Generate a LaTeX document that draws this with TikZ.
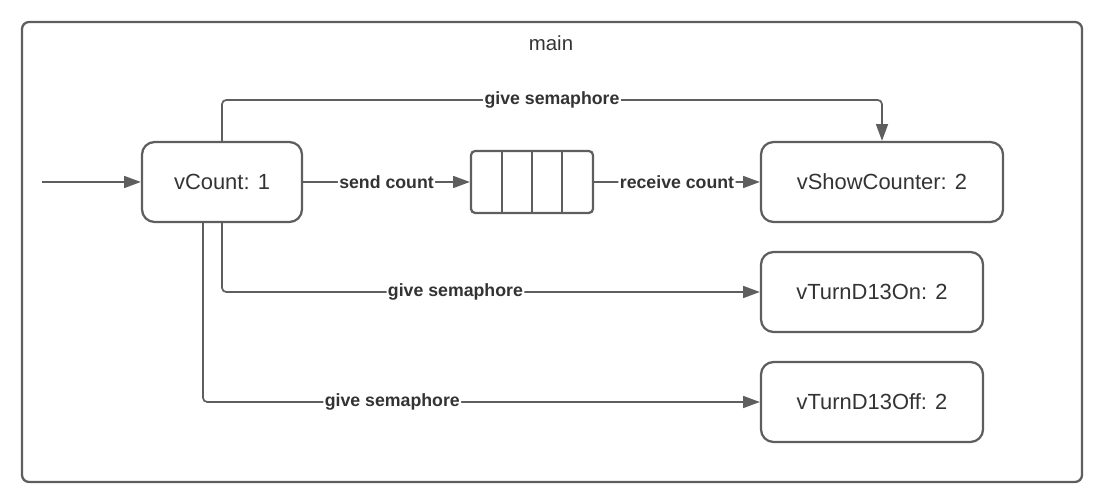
\documentclass[tikz,border=0pt]{standalone}
\usepackage{fontspec}
\setmainfont{Liberation Sans}
\usepackage{tikz}
\usetikzlibrary{arrows.meta, positioning}

\definecolor{linegray}{HTML}{5E5E5E}
\definecolor{textgray}{HTML}{333333}

\tikzset{
  task/.style={draw=linegray, line width=1.6pt, rounded corners=9pt, minimum height=2cm,
    text=textgray, font=\fontsize{15.6}{18}\selectfont},
  conn/.style={draw=linegray, line width=1.2pt, rounded corners=3pt,
    -{Triangle[length=0.42cm,width=0.3cm]}},
  lbl/.style={fill=white, inner sep=1pt, text=textgray, font=\fontsize{12.6}{15}\selectfont\bfseries}
}

\begin{document}
\begin{tikzpicture}[x=0.025cm, y=-0.025cm]
\useasboundingbox (0,0) rectangle (1103,503);
% Frame
\draw[linegray, line width=1.6pt, rounded corners=5pt] (22,22) rectangle (1082,482);
\node[text=textgray, font=\fontsize{14.5}{17}\selectfont] (title) at (551,43) {main};
% Tasks
\node[task, minimum width=4cm] (vc) at (222,182) {vCount: 1};
\node[task, minimum width=6.05cm] (vs) at (882,182) {vShowCounter: 2};
\node[task, minimum width=5.55cm] (on) at (872,292) {vTurnD13On: 2};
\node[task, minimum width=5.55cm] (off) at (872,402) {vTurnD13Off: 2};
% Queue
\node[draw=linegray, line width=1.6pt, rounded corners=3pt, minimum width=3.05cm, minimum height=1.55cm] (q) at (532,182) {};
\foreach \x in {502,532,562}
  \draw[linegray, line width=1.6pt] (\x,151) -- (\x,213);
\coordinate (start) at (42,182);
\coordinate (t1) at (222,100);
\coordinate (t2) at (882,100);
% Connectors
\draw[conn] (start) -- (vc);
\draw[conn] (vc) -- node[lbl] {send count} (q);
\draw[conn] (q) -- node[lbl] {receive count} (vs);
\draw[conn] (vc.north) -- (t1) -- node[lbl] {give semaphore} (t2) -- (vs.north);
\draw[conn] (vc.south) |- node[lbl, pos=0.717] {give semaphore} (on.west);
\draw[conn] ([xshift=-0.475cm]vc.south) |- node[lbl, pos=0.67] {give semaphore} (off.west);
\end{tikzpicture}
\end{document}
